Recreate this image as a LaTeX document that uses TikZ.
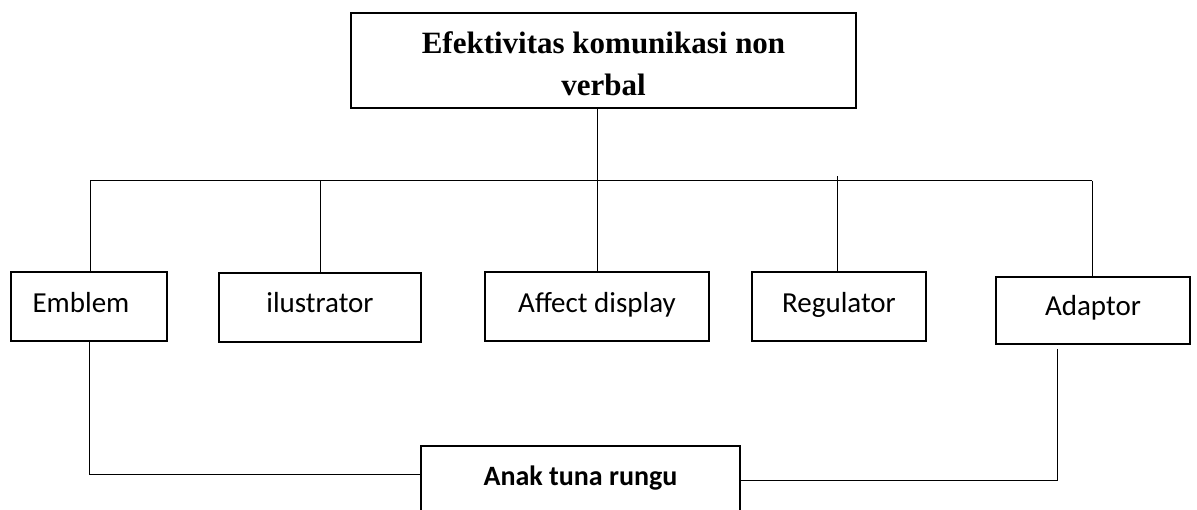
\documentclass[tikz,border=0pt]{standalone}
\usepackage{fontspec}
\setmainfont{Carlito}
\newfontfamily\titlefont{Liberation Serif}
\usetikzlibrary{calc}
\begin{document}
\begin{tikzpicture}[x=1pt,y=-1pt,
  box/.style={draw, line width=1.8pt, inner xsep=0pt, inner ysep=0pt, anchor=base,
    font=\fontsize{29}{34}\selectfont},
  link/.style={line width=1pt}]
\path[use as bounding box] (0,0) rectangle (1197,509);
\fill[white] (0,0) rectangle (1197,509);
\clip (0,0) rectangle (1197,509);

\node[draw, line width=1.8pt, minimum width=505pt, minimum height=95pt, inner sep=0pt] (top) at (603.5,60.5) {};
\node[align=center, inner sep=0pt, font=\titlefont\bfseries\fontsize{31}{42}\selectfont] (toptext) at (603.5,63.8) {Efektivitas komunikasi non\\verbal};

\node[box, minimum width=156pt, text height=40pt, text depth=29pt] (emblem) at (89,312) {Emblem\kern16pt};
\node[box, minimum width=202pt, text height=39pt, text depth=30pt] (ilus) at (320,312) {ilustrator};
\node[box, minimum width=224pt, text height=40pt, text depth=29pt] (affect) at (597,312) {Affect display};
\node[box, minimum width=174pt, text height=40pt, text depth=29pt] (reg) at (839,312) {Regulator};
\node[box, minimum width=194pt, text height=38pt, text depth=29pt] (adaptor) at (1093,315) {Adaptor};
\node[box, minimum width=319pt, text height=39pt, text depth=35pt, font=\bfseries\fontsize{28}{34}\selectfont] (anak) at (580.5,485) {Anak tuna rungu};

\coordinate (hl) at (90,180.5);
\coordinate (hr) at (1092,180.5);
\coordinate (regtop) at (837,176);
\draw[link] (hl) -- (hr);
\draw[link] (hl) -- (hl |- emblem.north);
\draw[link] (ilus.north |- hl) -- (ilus.north);
\draw[link] (top.south -| affect.north) -- (affect.north);
\draw[link] (regtop) -- (regtop |- reg.north);
\draw[link] (hr) -- (hr |- adaptor.north);
\draw[link] (emblem.south) |- ([yshift=-29pt]anak.north west);
\draw[link] ([xshift=-36pt,yshift=-4pt]adaptor.south) |- ([yshift=-35pt]anak.north east);
\end{tikzpicture}
\end{document}
